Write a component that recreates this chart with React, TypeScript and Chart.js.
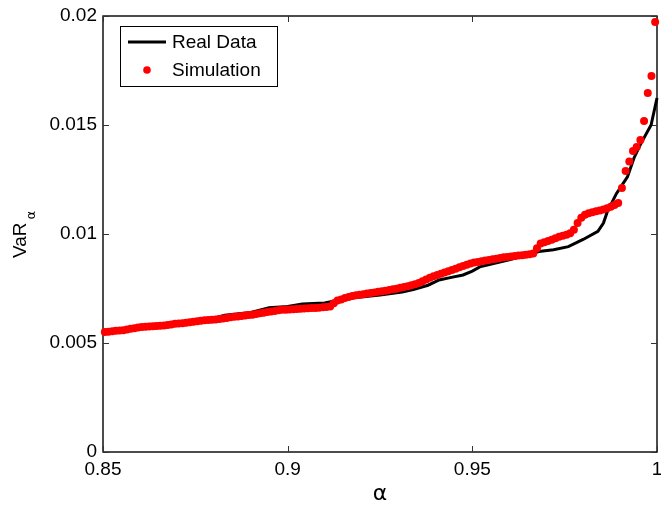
import React, { useEffect, useRef } from "react";
import { Chart, registerables } from "chart.js";

Chart.register(...registerables);

// Confidence levels of the simulated quantiles
const simAlpha = [
  0.8505, 0.8515, 0.8525, 0.8535, 0.8545, 0.8555, 0.8565, 0.8575, 0.8585, 0.8595,
  0.8605, 0.8615, 0.8625, 0.8635, 0.8645, 0.8655, 0.8665, 0.8675, 0.8685, 0.8695,
  0.8705, 0.8715, 0.8725, 0.8735, 0.8745, 0.8755, 0.8765, 0.8775, 0.8785, 0.8795,
  0.8805, 0.8815, 0.8825, 0.8835, 0.8845, 0.8855, 0.8865, 0.8875, 0.8885, 0.8895,
  0.8905, 0.8915, 0.8925, 0.8935, 0.8945, 0.8955, 0.8965, 0.8975, 0.8985, 0.8995,
  0.9005, 0.9015, 0.9025, 0.9035, 0.9045, 0.9055, 0.9065, 0.9075, 0.9085, 0.9095,
  0.9105, 0.9115, 0.9125, 0.9135, 0.9145, 0.9155, 0.9165, 0.9175, 0.9185, 0.9195,
  0.9205, 0.9215, 0.9225, 0.9235, 0.9245, 0.9255, 0.9265, 0.9275, 0.9285, 0.9295,
  0.9305, 0.9315, 0.9325, 0.9335, 0.9345, 0.9355, 0.9365, 0.9375, 0.9385, 0.9395,
  0.9405, 0.9415, 0.9425, 0.9435, 0.9445, 0.9455, 0.9465, 0.9475, 0.9485, 0.9495,
  0.9505, 0.9515, 0.9525, 0.9535, 0.9545, 0.9555, 0.9565, 0.9575, 0.9585, 0.9595,
  0.9605, 0.9615, 0.9625, 0.9635, 0.9645, 0.9655, 0.9665, 0.9675, 0.9685, 0.9695,
  0.9705, 0.9715, 0.9725, 0.9735, 0.9745, 0.9755, 0.9765, 0.9775, 0.9785, 0.9795,
  0.9805, 0.9815, 0.9825, 0.9835, 0.9845, 0.9855, 0.9865, 0.9875, 0.9885, 0.9895,
  0.9905, 0.9915, 0.9925, 0.9935, 0.9945, 0.9955, 0.9965, 0.9975, 0.9985, 0.9995,
];

// Simulated Value-at-Risk at each level
const simVaR = [
  0.0055, 0.00552, 0.00554, 0.00556, 0.00557, 0.00559, 0.00562, 0.00565, 0.00568, 0.00571,
  0.00573, 0.00574, 0.00576, 0.00577, 0.00578, 0.00579, 0.0058, 0.00582, 0.00585, 0.00588,
  0.0059, 0.00591, 0.00593, 0.00595, 0.00597, 0.006, 0.00602, 0.00604, 0.00606, 0.00607,
  0.00608, 0.0061, 0.00612, 0.00615, 0.00618, 0.0062, 0.00622, 0.00624, 0.00626, 0.00628,
  0.0063, 0.00633, 0.00636, 0.00639, 0.00642, 0.00644, 0.00647, 0.0065, 0.00652, 0.00653,
  0.00654, 0.00655, 0.00656, 0.00657, 0.00658, 0.00659, 0.0066, 0.00661, 0.00662, 0.00664,
  0.00665, 0.00668, 0.00682, 0.00695, 0.007, 0.00706, 0.00711, 0.00716, 0.00719, 0.00721,
  0.00724, 0.00727, 0.00729, 0.00732, 0.00735, 0.00737, 0.0074, 0.00743, 0.00746, 0.00749,
  0.00753, 0.00757, 0.0076, 0.00765, 0.0077, 0.00775, 0.00783, 0.00791, 0.00799, 0.00806,
  0.00812, 0.00818, 0.00823, 0.00829, 0.00835, 0.00841, 0.00847, 0.00853, 0.00859, 0.00865,
  0.00869, 0.00872, 0.00875, 0.00878, 0.00881, 0.00884, 0.00887, 0.0089, 0.00893, 0.00895,
  0.00897, 0.00899, 0.00901, 0.00903, 0.00905, 0.00907, 0.0091, 0.00935, 0.00956, 0.00962,
  0.00968, 0.00974, 0.00981, 0.00987, 0.00992, 0.00997, 0.01003, 0.0102, 0.0105, 0.01074,
  0.01088, 0.01095, 0.011, 0.01104, 0.01108, 0.01112, 0.01118, 0.01125, 0.01133, 0.01142,
  0.01211, 0.01289, 0.01333, 0.01381, 0.01399, 0.01431, 0.01518, 0.01647, 0.01725, 0.01972,
];

// Empirical VaR curve from the observed returns
const realAlpha = [
  0.8505, 0.86, 0.87, 0.88, 0.883, 0.89, 0.895, 0.9, 0.904, 0.91,
  0.913, 0.918, 0.925, 0.931, 0.934, 0.938, 0.941, 0.944, 0.9475, 0.95,
  0.952, 0.956, 0.96, 0.964, 0.968, 0.972, 0.976, 0.98, 0.984, 0.9855,
  0.9865, 0.989, 0.992, 0.9938, 0.9957, 0.9984, 1.0,
];
const realVaR = [
  0.00552, 0.00572, 0.00592, 0.00614, 0.00627, 0.0064, 0.00662, 0.00668, 0.00679, 0.00684,
  0.00694, 0.00707, 0.0072, 0.00734, 0.00745, 0.00765, 0.00789, 0.008, 0.00812, 0.0083,
  0.00849, 0.00866, 0.00882, 0.009, 0.0092, 0.00928, 0.00942, 0.00975, 0.01012, 0.0105,
  0.011, 0.01185, 0.01262, 0.0135, 0.01417, 0.015, 0.01624,
];

const xTickValues = [0.85, 0.9, 0.95, 1];
const xTickLabels = ["0.85", "0.9", "0.95", "1"];
const yTickValues = [0, 0.005, 0.01, 0.015, 0.02];
const yTickLabels = ["0", "0.005", "0.01", "0.015", "0.02"];

const seriesNames = ["Real Data", "Simulation"];
const FONT = "'Liberation Sans', Arial, Helvetica, sans-serif";

const framePlugin = {
  id: "matlabFrame",
  beforeDatasetsDraw(chart: any) {
    const { ctx, chartArea } = chart;
    const { left, right, top, bottom } = chartArea;
    const xs = chart.scales.x;
    const ys = chart.scales.y;
    ctx.save();
    ctx.strokeStyle = "#000";
    ctx.lineWidth = 1.4;
    ctx.strokeRect(left, top, right - left, bottom - top);
    // inward tick marks on all four sides
    ctx.lineWidth = 1;
    ctx.strokeStyle = "#333";
    const tl = 6;
    ctx.beginPath();
    xTickValues.forEach((v) => {
      const px = Math.round(xs.getPixelForValue(v)) + 0.5;
      ctx.moveTo(px, bottom);
      ctx.lineTo(px, bottom - tl);
      ctx.moveTo(px, top);
      ctx.lineTo(px, top + tl);
    });
    yTickValues.forEach((v) => {
      const py = Math.round(ys.getPixelForValue(v)) + 0.5;
      ctx.moveTo(left, py);
      ctx.lineTo(left + tl, py);
      ctx.moveTo(right, py);
      ctx.lineTo(right - tl, py);
    });
    ctx.stroke();
    ctx.restore();
  },
  afterDatasetsDraw(chart: any) {
    const { ctx, chartArea } = chart;
    ctx.save();
    // legend box
    const bx = 120.5, by = 26.5, bw = 157, bh = 60;
    ctx.fillStyle = "#fff";
    ctx.fillRect(bx, by, bw, bh);
    ctx.strokeStyle = "#000";
    ctx.lineWidth = 1;
    ctx.strokeRect(bx, by, bw, bh);
    ctx.strokeStyle = "#000";
    ctx.lineWidth = 3;
    ctx.beginPath();
    ctx.moveTo(128, 42);
    ctx.lineTo(166, 42);
    ctx.stroke();
    ctx.fillStyle = "#ff0000";
    ctx.beginPath();
    ctx.arc(147, 70, 3.8, 0, Math.PI * 2);
    ctx.fill();
    ctx.fillStyle = "#000";
    ctx.font = `19px ${FONT}`;
    ctx.textAlign = "left";
    ctx.textBaseline = "middle";
    ctx.fillText(seriesNames[0], 172, 43);
    ctx.fillText(seriesNames[1], 172, 71);

    // y-axis title: VaR with subscript alpha
    ctx.save();
    ctx.translate(26, 258);
    ctx.rotate(-Math.PI / 2);
    ctx.textBaseline = "alphabetic";
    ctx.font = `19px ${FONT}`;
    ctx.fillText("VaR", 0, 0);
    const w = ctx.measureText("VaR").width;
    ctx.font = `13px 'DejaVu Sans', sans-serif`;
    ctx.fillText("α", w + 3, 9);
    ctx.restore();

    // x-axis title
    ctx.font = `22px 'DejaVu Sans', sans-serif`;
    ctx.textAlign = "center";
    ctx.textBaseline = "alphabetic";
    ctx.fillText("α", (chartArea.left + chartArea.right) / 2, 500);
    ctx.restore();
  },
};

export default function App() {
  const canvasRef = useRef<HTMLCanvasElement | null>(null);

  useEffect(() => {
    document.body.style.margin = "0";
    document.body.style.overflow = "hidden";
    const canvas = canvasRef.current;
    if (!canvas) return;

    const simPoints = simAlpha.map((a, i) => ({ x: a, y: simVaR[i] }));
    const realPoints = realAlpha.map((a, i) => ({ x: a, y: realVaR[i] }));

    const chart = new Chart(canvas, {
      type: "scatter",
      data: {
        datasets: [
          {
            label: seriesNames[0],
            type: "line",
            data: realPoints,
            borderColor: "#000",
            borderWidth: 3,
            pointRadius: 0,
            fill: false,
            tension: 0,
            showLine: true,
            order: 2,
            clip: false,
          } as any,
          {
            label: seriesNames[1],
            data: simPoints,
            backgroundColor: "#ff0000",
            borderWidth: 0,
            pointRadius: 4,
            order: 1,
            clip: false,
          } as any,
        ],
      },
      options: {
        responsive: false,
        animation: false,
        events: [],
        layout: { padding: { top: 16, right: 3, left: 0, bottom: 0 } },
        plugins: {
          legend: { display: false },
          tooltip: { enabled: false },
        },
        scales: {
          x: {
            type: "linear",
            min: 0.85,
            max: 1,
            grid: { display: false, drawTicks: false },
            border: { display: false },
            ticks: {
              color: "#000",
              font: { family: FONT, size: 19 },
              padding: 6,
              maxRotation: 0,
              autoSkip: false,
              callback: (v: any) => {
                const k = xTickValues.findIndex((t) => Math.abs(t - Number(v)) < 1e-9);
                return k >= 0 ? xTickLabels[k] : "";
              },
            },
            afterBuildTicks: (s: any) => {
              s.ticks = xTickValues.map((v) => ({ value: v }));
            },
            afterFit: (s: any) => {
              s.height = 55;
              s.paddingLeft = 0;
              s.paddingRight = 0;
            },
          },
          y: {
            type: "linear",
            min: 0,
            max: 0.02,
            grid: { display: false, drawTicks: false },
            border: { display: false },
            ticks: {
              color: "#000",
              font: { family: FONT, size: 19 },
              padding: 6,
              autoSkip: false,
              callback: (v: any) => {
                const k = yTickValues.findIndex((t) => Math.abs(t - Number(v)) < 1e-9);
                return k >= 0 ? yTickLabels[k] : "";
              },
            },
            afterBuildTicks: (s: any) => {
              s.ticks = yTickValues.map((v) => ({ value: v }));
            },
            afterFit: (s: any) => {
              s.width = 103;
              s.paddingTop = 0;
              s.paddingBottom = 0;
            },
          },
        },
      },
      plugins: [framePlugin],
    });

    return () => chart.destroy();
  }, []);

  return (
    <div style={{ width: 661, height: 507, background: "#fff" }}>
      <canvas ref={canvasRef} width={661} height={507} style={{ display: "block" }} />
    </div>
  );
}
